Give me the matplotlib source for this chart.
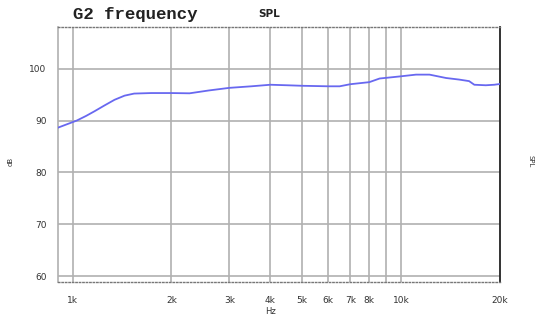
import matplotlib
matplotlib.use("Agg")
import matplotlib.pyplot as plt

# Frequency response of G2 (Hz, dB SPL)
freq_hz = [900, 1030, 1100, 1167, 1250, 1342, 1440, 1540, 1735, 2000, 2270,
           2600, 3000, 3500, 4000, 4500, 5000, 6000, 6500, 7000, 8000, 8600,
           9900, 11100, 12200, 13700, 15000, 16100, 16700, 18100, 19200, 20000]
spl_db = [88.6, 90.0, 90.9, 91.8, 92.9, 94.0, 94.8, 95.2, 95.3, 95.3, 95.25,
          95.8, 96.3, 96.6, 96.9, 96.8, 96.7, 96.6, 96.6, 97.0, 97.4, 98.1,
          98.5, 98.85, 98.85, 98.2, 97.9, 97.6, 96.9, 96.8, 96.9, 97.05]

x_ticks = [1000, 2000, 3000, 4000, 5000, 6000, 7000, 8000, 10000, 20000]
x_ticklabels = ["1k", "2k", "3k", "4k", "5k", "6k", "7k", "8k", "10k", "20k"]
x_grid = [1000, 2000, 3000, 4000, 5000, 6000, 7000, 8000, 9000, 10000]
y_ticks = [60, 70, 80, 90, 100]

fig = plt.figure(figsize=(5.4, 3.23), dpi=100)
ax = fig.add_axes([0.1065, 0.127, 0.8195, 0.789])

ax.set_xscale("log")
ax.set_xlim(900, 20000)
ax.set_ylim(58.9, 108)

for f in x_grid:
    ax.axvline(f, color="#b0b0b0", lw=1.2, zorder=1)
for y in y_ticks:
    ax.axhline(y, color="#b0b0b0", lw=1.2, zorder=1)

ax.plot(freq_hz, spl_db, color="#6868f0", lw=1.3, zorder=3)

ax.set_xticks(x_ticks)
ax.set_xticklabels(x_ticklabels)
ax.xaxis.set_minor_locator(matplotlib.ticker.NullLocator())
ax.set_yticks(y_ticks)
ax.tick_params(axis="both", length=0, labelsize=6.5, colors="#333333")
ax.tick_params(axis="x", pad=10)
ax.tick_params(axis="y", pad=8)

for side in ("top", "bottom"):
    ax.spines[side].set_linestyle((0, (1, 1.5)))
    ax.spines[side].set_color("#777777")
    ax.spines[side].set_linewidth(1.0)
ax.spines["left"].set_color("#b0b0b0")
ax.spines["left"].set_linewidth(1.2)
ax.spines["right"].set_color("#222222")
ax.spines["right"].set_linewidth(1.3)

fig.text(0.135, 0.955, "G2 frequency", family="Liberation Mono",
         fontweight="bold", fontsize=12.5, va="center", ha="left", color="#222222")
fig.text(0.478, 0.958, "SPL", fontweight="bold", fontsize=7.5,
         va="center", ha="left", color="#222222")
fig.text(0.5, 0.037, "Hz", fontsize=6, ha="center", va="center", color="#333333")
fig.text(0.019, 0.50, "dB", fontsize=5, rotation=90, ha="center", va="center",
         color="#333333")
fig.text(0.982, 0.50, "SPL", fontsize=5, rotation=-90, ha="center", va="center",
         color="#333333")

fig.savefig("out.png", dpi=100)
